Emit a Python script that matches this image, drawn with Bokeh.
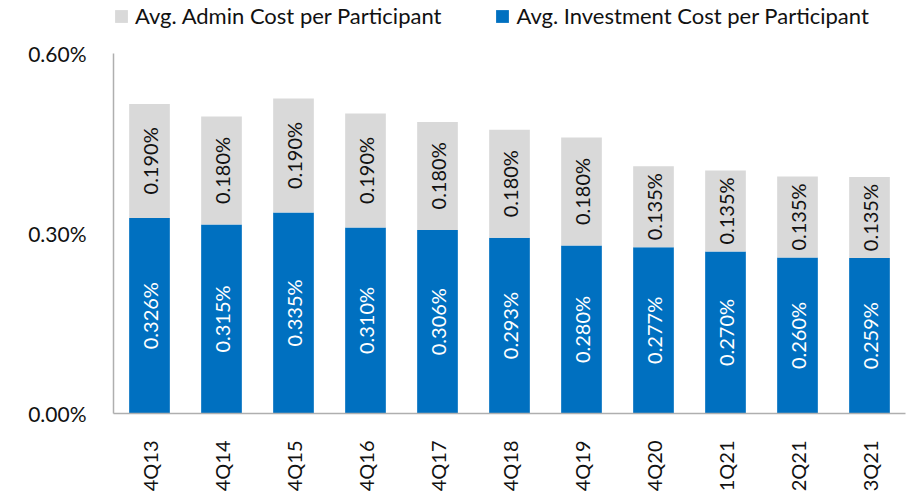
from math import pi
from bokeh.plotting import figure
from bokeh.models import ColumnDataSource, FactorRange, Range1d, Legend, LegendItem, NumeralTickFormatter, FixedTicker
from bokeh.core.properties import value
from bokeh.embed import file_html
from bokeh.resources import INLINE

quarters = ["4Q13", "4Q14", "4Q15", "4Q16", "4Q17", "4Q18", "4Q19", "4Q20", "1Q21", "2Q21", "3Q21"]
investment = [0.326, 0.315, 0.335, 0.310, 0.306, 0.293, 0.280, 0.277, 0.270, 0.260, 0.259]
admin = [0.190, 0.180, 0.190, 0.190, 0.180, 0.180, 0.180, 0.135, 0.135, 0.135, 0.135]
y_ticks = [0.0, 0.3, 0.6]

FONT = "Lato"
BLUE = "#0070C0"
GRAY = "#D9D9D9"

src = ColumnDataSource(dict(
    q=quarters,
    investment=investment,
    admin=admin,
    inv_mid=[v / 2 for v in investment],
    adm_mid=[i + a / 2 for i, a in zip(investment, admin)],
    inv_lbl=[f"{v:.3f}%" for v in investment],
    adm_lbl=[f"{v:.3f}%" for v in admin],
))

Y_MAX = y_ticks[-1]
# frame spans the full height above the x axis; the extra room on top holds the legend
y_top = Y_MAX * 413 / 360

p = figure(x_range=FactorRange(*quarters, range_padding=0), y_range=Range1d(0, y_top),
           width=908, height=494, output_backend="svg", toolbar_location=None,
           min_border_left=113, min_border_right=3, min_border_top=0, min_border_bottom=81)
p.outline_line_color = None
p.xgrid.grid_line_color = None
p.ygrid.grid_line_color = None

r = p.vbar_stack(["investment", "admin"], x="q", width=0.565, source=src,
                 color=[BLUE, GRAY], line_color=None)

p.text(x="q", y="inv_mid", text="inv_lbl", source=src, angle=pi / 2,
       text_align="center", text_baseline="middle", text_color="white",
       text_font=value(FONT), text_font_size="20px")
p.text(x="q", y="adm_mid", text="adm_lbl", source=src, angle=pi / 2,
       text_align="center", text_baseline="middle", text_color="#111111",
       text_font=value(FONT), text_font_size="20px")

p.yaxis.ticker = FixedTicker(ticks=y_ticks)
p.yaxis.bounds = (0, Y_MAX)
p.yaxis.formatter = NumeralTickFormatter(format="0.00")
p.yaxis.major_label_overrides = {t: f"{t:.2f}%" for t in y_ticks}
for ax in (p.xaxis, p.yaxis):
    ax.axis_line_color = "#AFAFAF"
    ax.axis_line_width = 1.5
    ax.major_tick_line_color = None
    ax.minor_tick_line_color = None
    ax.major_label_text_font = FONT
    ax.major_label_text_color = "#111111"
p.yaxis.major_label_text_font_size = "21px"
p.xaxis.major_label_text_font_size = "20px"
p.yaxis.major_label_standoff = 21
p.xaxis.major_label_orientation = pi / 2
p.xaxis.major_label_standoff = 21

legend = Legend(items=[LegendItem(label="Avg. Admin Cost per Participant", renderers=[r[1]]),
                       LegendItem(label="Avg. Investment Cost per Participant", renderers=[r[0]])],
                orientation="horizontal", location=(0, 384), padding=0, margin=0, spacing=53,
                glyph_width=16, glyph_height=16, label_standoff=6,
                label_text_font=FONT, label_text_font_size="22px", label_text_color="#111111",
                background_fill_alpha=0, border_line_color=None)
p.add_layout(legend, "center")

open("out.html", "w").write(file_html(p, INLINE))
